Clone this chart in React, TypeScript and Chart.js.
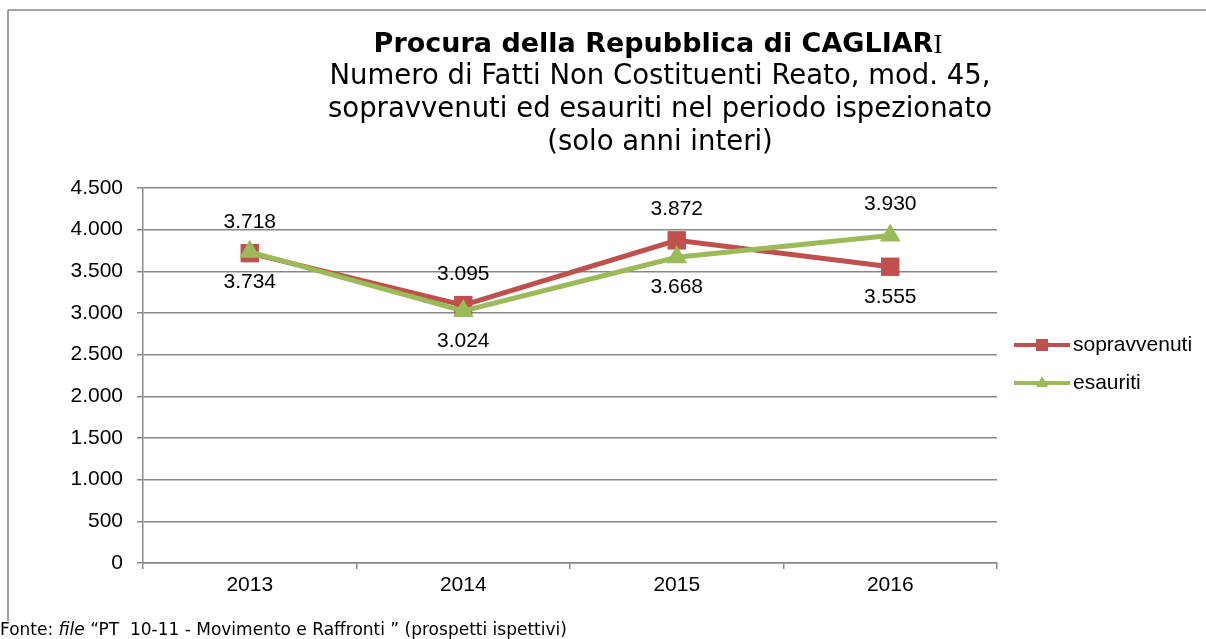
import React, { useEffect, useRef } from "react";
import { Chart, registerables } from "chart.js";

Chart.register(...registerables);

// ---- data ----
const categories = ["2013", "2014", "2015", "2016"];
const sopravvenuti = [3718, 3095, 3872, 3555];
const esauriti = [3734, 3024, 3668, 3930];
const sopravvenutiLabelPos = ["above", "above", "above", "below"];
const esauritiLabelPos = ["below", "below", "below", "above"];
const yMin = 0;
const yMax = 4500;
const yStep = 500;
const seriesNames = ["sopravvenuti", "esauriti"];
const titleBold = "Procura della Repubblica di CAGLIAR";
const titleTail = "I";
const subtitleLines = [
  "Numero di Fatti Non Costituenti Reato, mod. 45,",
  "sopravvenuti ed esauriti nel periodo ispezionato",
  "(solo anni interi)",
];
const footerStart = "Fonte: ";
const footerItalic = "file";
const footerEnd = " \u201CPT  10-11 - Movimento e Raffronti \u201D (prospetti ispettivi)";

// ---- styles ----
const RED = "#C0504D";
const GREEN = "#9BBB59";
const GRID = "#878787";
const ARIAL = '"Liberation Sans", Arial, sans-serif';
const VERDANA = '"DejaVu Sans", Verdana, sans-serif';
const SERIF = '"Liberation Serif", "DejaVu Serif", serif';

const fmt = (n: number) =>
  Math.round(n).toString().replace(/\B(?=(\d{3})+(?!\d))/g, ".");

const decorPlugin = {
  id: "decor",
  beforeDraw(chart: any) {
    const ctx = chart.ctx;
    ctx.save();
    ctx.fillStyle = "#fff";
    ctx.fillRect(0, 0, chart.width, chart.height);
    ctx.strokeStyle = GRID;
    ctx.lineWidth = 1.5;
    ctx.beginPath();
    ctx.moveTo(8, 10);
    ctx.lineTo(chart.width, 10);
    ctx.moveTo(8, 10);
    ctx.lineTo(8, 621);
    ctx.stroke();
    ctx.restore();
  },
  afterDraw(chart: any) {
    const ctx = chart.ctx;
    ctx.save();
    ctx.fillStyle = "#000";
    ctx.textBaseline = "middle";
    const cx = 658;
    // title line 1
    const fBold = `bold 27px ${VERDANA}`;
    const fSerif = `27px ${SERIF}`;
    ctx.font = fBold;
    const w1 = ctx.measureText(titleBold).width;
    ctx.font = fSerif;
    const w2 = ctx.measureText(titleTail).width;
    const x0 = cx - (w1 + w2) / 2;
    ctx.textAlign = "left";
    ctx.font = fBold;
    ctx.fillText(titleBold, x0, 45);
    ctx.font = fSerif;
    ctx.fillText(titleTail, x0 + w1, 46);
    // subtitle
    ctx.textAlign = "center";
    ctx.font = `27.5px ${VERDANA}`;
    subtitleLines.forEach((l, i) => ctx.fillText(l, cx + 2, 77 + i * 33));

    // legend
    const legendItems = [
      { name: seriesNames[0], color: RED, style: "rect", y: 345 },
      { name: seriesNames[1], color: GREEN, style: "triangle", y: 383 },
    ];
    legendItems.forEach((it) => {
      ctx.strokeStyle = it.color;
      ctx.lineWidth = 4;
      ctx.beginPath();
      ctx.moveTo(1014, it.y);
      ctx.lineTo(1070, it.y);
      ctx.stroke();
      ctx.fillStyle = it.color;
      if (it.style === "rect") {
        ctx.fillRect(1036, it.y - 6, 12, 12);
      } else {
        ctx.beginPath();
        ctx.moveTo(1042, it.y - 7);
        ctx.lineTo(1048, it.y + 4);
        ctx.lineTo(1036, it.y + 4);
        ctx.closePath();
        ctx.fill();
      }
      ctx.fillStyle = "#000";
      ctx.textAlign = "left";
      ctx.font = `21px ${ARIAL}`;
      ctx.fillText(it.name, 1073, it.y);
    });

    // footer
    ctx.textAlign = "left";
    let fx = 0;
    const fy = 631;
    ctx.font = `17px ${VERDANA}`;
    ctx.fillText(footerStart, fx, fy);
    fx += ctx.measureText(footerStart).width;
    ctx.font = `italic 17px ${VERDANA}`;
    ctx.fillText(footerItalic, fx, fy);
    fx += ctx.measureText(footerItalic).width;
    ctx.font = `17px ${VERDANA}`;
    ctx.fillText(footerEnd, fx, fy);
    ctx.restore();
  },
  afterDatasetsDraw(chart: any) {
    const ctx = chart.ctx;
    ctx.save();
    ctx.fillStyle = "#000";
    ctx.font = `21px ${ARIAL}`;
    ctx.textAlign = "center";
    ctx.textBaseline = "middle";
    const positions = [sopravvenutiLabelPos, esauritiLabelPos];
    chart.data.datasets.forEach((ds: any, di: number) => {
      const meta = chart.getDatasetMeta(di);
      meta.data.forEach((pt: any, i: number) => {
        const off = positions[di][i] === "above" ? -31 : 30;
        ctx.fillText(fmt(ds.data[i]), pt.x, pt.y + off);
      });
    });
    ctx.restore();
  },
};

export default function App() {
  const ref = useRef<HTMLCanvasElement | null>(null);
  useEffect(() => {
    if (!ref.current) return;
    const chart = new Chart(ref.current, {
      type: "line",
      data: {
        labels: categories,
        datasets: [
          {
            label: seriesNames[0],
            data: sopravvenuti,
            borderColor: RED,
            backgroundColor: RED,
            borderWidth: 5,
            pointStyle: "rect",
            pointRadius: 13,
            pointBorderWidth: 0,
            pointBackgroundColor: RED,
            tension: 0,
            order: 1,
          },
          {
            label: seriesNames[1],
            data: esauriti,
            borderColor: GREEN,
            backgroundColor: GREEN,
            borderWidth: 5,
            pointStyle: "triangle",
            pointRadius: 12,
            pointBorderWidth: 0,
            pointBackgroundColor: GREEN,
            tension: 0,
            order: 0,
          },
        ],
      },
      options: {
        responsive: false,
        animation: false,
        devicePixelRatio: 1,
        layout: { padding: { left: 0, top: 188, right: 209, bottom: 0 } },
        plugins: {
          legend: { display: false },
          title: { display: false },
          tooltip: { enabled: false },
        },
        scales: {
          x: {
            offset: true,
            grid: {
              display: true,
              drawOnChartArea: false,
              offset: true,
              tickLength: 6,
              color: GRID,
              lineWidth: 1.5,
            },
            border: { color: GRID, width: 1.5 },
            ticks: { font: { family: ARIAL, size: 21 }, color: "#000", padding: 4 },
            afterFit: (s: any) => {
              s.height = 76;
            },
          },
          y: {
            min: yMin,
            max: yMax,
            ticks: {
              stepSize: yStep,
              callback: (v: any) => fmt(Number(v)),
              font: { family: ARIAL, size: 21 },
              color: "#000",
              padding: 14,
            },
            grid: { color: GRID, lineWidth: 1.5, tickLength: 6 },
            border: { color: GRID, width: 1.5 },
            afterFit: (s: any) => {
              s.width = 143;
            },
          },
        },
      },
      plugins: [decorPlugin],
    });
    return () => chart.destroy();
  }, []);
  return (
    <div style={{ position: "fixed", left: 0, top: 0, width: 1206, height: 639 }}>
      <canvas ref={ref} width={1206} height={639} style={{ width: 1206, height: 639, display: "block" }} />
    </div>
  );
}
